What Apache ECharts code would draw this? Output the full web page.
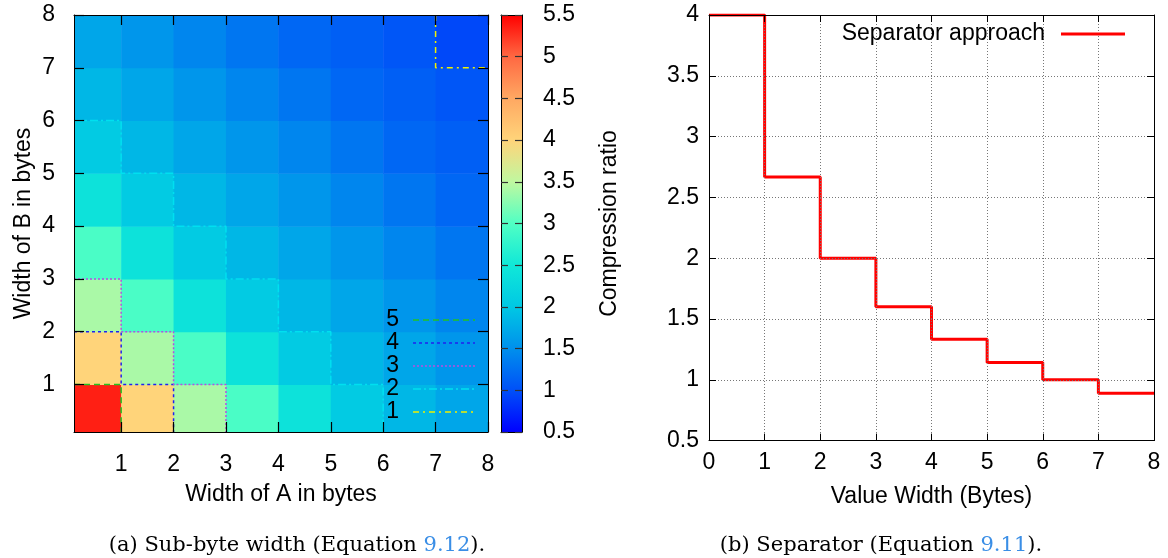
<!DOCTYPE html>
<html>
<head>
<meta charset="utf-8">
<script src="https://cdn.jsdelivr.net/npm/echarts@6/dist/echarts.min.js"></script>
<style>
html,body{margin:0;padding:0;background:#fff;}
#chart{width:1168px;height:558px;}
</style>
</head>
<body>
<div id="chart"></div>
<script>
// ---------- data ----------
const widthA = [1, 2, 3, 4, 5, 6, 7, 8];          // right edge of each cell column (bytes)
const widthB = [1, 2, 3, 4, 5, 6, 7, 8];          // top edge of each cell row (bytes)
// compression ratio, rows = width of B (1..8), columns = width of A (1..8)
const ratioRows = [
  [5.35, 4.00, 3.40, 2.95, 2.40, 2.05, 1.85, 1.70],
  [4.00, 3.40, 2.95, 2.40, 2.05, 1.85, 1.70, 1.55],
  [3.40, 2.95, 2.40, 2.05, 1.85, 1.70, 1.55, 1.42],
  [2.95, 2.40, 2.05, 1.85, 1.70, 1.55, 1.42, 1.30],
  [2.40, 2.05, 1.85, 1.70, 1.55, 1.42, 1.30, 1.18],
  [2.05, 1.85, 1.70, 1.55, 1.42, 1.30, 1.18, 1.12],
  [1.85, 1.70, 1.55, 1.42, 1.30, 1.18, 1.12, 1.05],
  [1.70, 1.55, 1.42, 1.30, 1.18, 1.12, 1.05, 0.95]
];
const axisTicksAB = [1, 2, 3, 4, 5, 6, 7, 8];
const colorbarTicks = [0.5, 1, 1.5, 2, 2.5, 3, 3.5, 4, 4.5, 5, 5.5];
const paletteColors = ['#0000ff', '#0050f8', '#0090ec', '#00c8e4', '#10e8d8', '#50ffc4',
                       '#c0f8a0', '#ffd47a', '#ffa862', '#ff6842', '#ff0000'];

// contour lines (staircases), [widthA, widthB]
const contourNames = ['5', '4', '3', '2', '1'];
const contour5 = [[0.1, 1], [1, 1], [1, 0.1]];
const contour4 = [[0.1, 2], [1, 2], [1, 1], [2, 1], [2, 0.1]];
const contour3 = [[0.1, 3], [1, 3], [1, 2], [2, 2], [2, 1], [3, 1], [3, 0.1]];
const contour2 = [[0.1, 6], [1, 6], [1, 5], [2, 5], [2, 4], [3, 4], [3, 3], [4, 3], [4, 2], [5, 2], [5, 1], [6, 1], [6, 0.1]];
const contour1 = [[7, 8], [7, 7], [8, 7]];

// separator approach
const seriesName = 'Separator approach';
const valueWidth = [0, 1, 2, 3, 4, 5, 6, 7, 8];
const separatorRatio = [4.0, 2.667, 2.0, 1.6, 1.333, 1.143, 1.0, 0.889, 0.889];

// ---------- build ----------
const SANS = 'Liberation Sans, Arial, Helvetica, sans-serif';
const SERIF = 'DejaVu Serif, serif';
const FS = 23;
const heatData = [];
ratioRows.forEach((row, j) => row.forEach((v, i) => heatData.push([widthA[i], widthB[j], v])));
const AMIN = 0.1;
const cbMin = colorbarTicks[0], cbMax = colorbarTicks[colorbarTicks.length - 1];

const chart = echarts.init(document.getElementById('chart'), null, {renderer: 'canvas'});

function blackLine() { return {show: true, onZero: false, lineStyle: {color: '#000', width: 1}}; }
function labelStyle(extra) { return Object.assign({color: '#000', fontFamily: SANS, fontSize: FS}, extra || {}); }
function nameStyle() { return {color: '#000', fontFamily: SANS, fontSize: FS}; }

function abAxis(extra) {
  return Object.assign({
    type: 'value', gridIndex: 0, min: AMIN, max: 8, z: 10,
    axisLine: blackLine(),
    axisTick: {show: true, inside: true, length: 10, customValues: axisTicksAB, lineStyle: {color: '#000', width: 1.2}},
    axisLabel: labelStyle({show: true, customValues: axisTicksAB}),
    splitLine: {show: false}
  }, extra);
}

const contourStyles = [
  {data: contour5, color: '#22c422', type: [6, 4]},
  {data: contour4, color: '#2020f0', type: [3, 3]},
  {data: contour3, color: '#b84ee0', type: [2, 2]},
  {data: contour2, color: '#00e0f0', type: [8, 3, 2, 3]},
  {data: contour1, color: '#f0f000', type: [6, 4, 2, 4]}
];

// key (legend) graphics
const keyGraphics = [];
contourNames.forEach((n, k) => {
  const y = 320 + k * 23;
  keyGraphics.push({type: 'text', x: 399, y: y, z: 20,
    style: {text: n, fill: '#000', font: FS + 'px ' + SANS, textAlign: 'right', textVerticalAlign: 'middle'}});
  keyGraphics.push({type: 'line', z: 20,
    shape: {x1: 413, y1: y, x2: 475, y2: y},
    style: {stroke: contourStyles[k].color, lineWidth: 1.5, lineDash: contourStyles[k].type}});
});
keyGraphics.push({type: 'text', x: 1045, y: 34, z: 20,
  style: {text: seriesName, fill: '#000', font: FS + 'px ' + SANS, textAlign: 'right', textVerticalAlign: 'middle'}});
keyGraphics.push({type: 'line', z: 20,
  shape: {x1: 1061, y1: 34, x2: 1125, y2: 34}, style: {stroke: '#ff0000', lineWidth: 3}});

const captionRich = {
  a: {fontFamily: SERIF, fontSize: 21, fontWeight: 'normal', color: '#000'},
  b: {fontFamily: SERIF, fontSize: 21, fontWeight: 'normal', color: '#3a8ee6'}
};

const option = {
  animation: false,
  backgroundColor: '#fff',
  textStyle: {fontFamily: SANS},
  grid: [
    {left: 74, top: 15, width: 414, height: 417},
    {left: 501, top: 15, width: 21, height: 417},
    {left: 709, top: 15, width: 445, height: 425.6}
  ],
  xAxis: [
    abAxis({name: 'Width of A in bytes', nameLocation: 'middle', nameGap: 51, nameTextStyle: nameStyle(),
            axisLabel: labelStyle({show: true, customValues: axisTicksAB, margin: 21})}),
    abAxis({position: 'top', axisLabel: {show: false}}),
    {type: 'value', gridIndex: 1, min: 0, max: 1, z: 10, axisLine: blackLine(), axisTick: {show: false}, axisLabel: {show: false}, splitLine: {show: false}},
    {type: 'value', gridIndex: 1, min: 0, max: 1, z: 10, position: 'top', axisLine: blackLine(), axisTick: {show: false}, axisLabel: {show: false}, splitLine: {show: false}},
    {type: 'value', gridIndex: 2, min: 0, max: 8, interval: 1, z: 10, axisLine: blackLine(),
     axisTick: {show: true, inside: true, length: 7, lineStyle: {color: '#000'}},
     axisLabel: labelStyle({margin: 11}),
     splitLine: {show: true, lineStyle: {color: '#777', type: [1, 2], width: 1}},
     name: 'Value Width (Bytes)', nameLocation: 'middle', nameGap: 45, nameTextStyle: nameStyle()},
    {type: 'value', gridIndex: 2, min: 0, max: 8, interval: 1, position: 'top', z: 10, axisLine: blackLine(),
     axisTick: {show: true, inside: true, length: 7, lineStyle: {color: '#000'}}, axisLabel: {show: false}, splitLine: {show: false}}
  ],
  yAxis: [
    abAxis({name: 'Width of B in bytes', nameLocation: 'middle', nameGap: 39, nameTextStyle: nameStyle(),
            axisLabel: labelStyle({show: true, customValues: axisTicksAB, margin: 19})}),
    abAxis({position: 'right', axisLabel: {show: false}}),
    {type: 'value', gridIndex: 1, min: cbMin, max: cbMax, interval: 0.5, position: 'left', z: 10, axisLine: blackLine(),
     axisTick: {show: true, inside: true, length: 7, lineStyle: {color: '#333', width: 1.2}}, axisLabel: {show: false}, splitLine: {show: false}},
    {type: 'value', gridIndex: 1, min: cbMin, max: cbMax, interval: 0.5, position: 'right', z: 10, axisLine: blackLine(),
     axisTick: {show: true, inside: true, length: 7, lineStyle: {color: '#333', width: 1.2}},
     axisLabel: labelStyle({margin: 21}), splitLine: {show: false},
     name: 'Compression ratio', nameLocation: 'middle', nameGap: 76, nameRotate: 90, nameTextStyle: nameStyle()},
    {type: 'value', gridIndex: 2, min: 0.5, max: 4, interval: 0.5, z: 10, axisLine: blackLine(),
     axisTick: {show: true, inside: true, length: 7, lineStyle: {color: '#000'}},
     axisLabel: labelStyle({margin: 10}),
     splitLine: {show: true, lineStyle: {color: '#777', type: [1, 2], width: 1}}},
    {type: 'value', gridIndex: 2, min: 0.5, max: 4, interval: 0.5, position: 'right', z: 10, axisLine: blackLine(),
     axisTick: {show: true, inside: true, length: 7, lineStyle: {color: '#000'}}, axisLabel: {show: false}, splitLine: {show: false}}
  ],
  visualMap: [{
    show: false, type: 'continuous', min: cbMin, max: cbMax, dimension: 2, seriesIndex: 0,
    inRange: {color: paletteColors}
  }],
  title: [
    {text: '{a|(a) Sub-byte width (Equation }{b|9.12}{a|).}', left: 292, top: 530, textAlign: 'center',
     textStyle: {fontWeight: 'normal', rich: captionRich}},
    {text: '{a|(b) Separator (Equation }{b|9.11}{a|).}', left: 876, top: 530, textAlign: 'center',
     textStyle: {fontWeight: 'normal', rich: captionRich}}
  ],
  graphic: keyGraphics,
  series: [
    {
      type: 'custom', xAxisIndex: 0, yAxisIndex: 0, data: heatData, encode: {x: 0, y: 1},
      z: 1, silent: true,
      renderItem: function (params, api) {
        const a = api.value(0), b = api.value(1);
        const p0 = api.coord([Math.max(a - 1, AMIN), Math.max(b - 1, AMIN)]);
        const p1 = api.coord([a, b]);
        return {type: 'rect', shape: {x: p0[0], y: p1[1], width: p1[0] - p0[0] + 0.5, height: p0[1] - p1[1] + 0.5},
                style: {fill: api.visual('color')}};
      }
    },
    {
      type: 'custom', xAxisIndex: 2, yAxisIndex: 2, data: [[0, cbMin, 1, cbMax]], z: 1, silent: true,
      renderItem: function (params, api) {
        const p0 = api.coord([api.value(0), api.value(1)]);
        const p1 = api.coord([api.value(2), api.value(3)]);
        const n = paletteColors.length - 1;
        const stops = paletteColors.map((c, k) => ({offset: 1 - k / n, color: c})).reverse();
        return {type: 'rect', shape: {x: p0[0], y: p1[1], width: p1[0] - p0[0], height: p0[1] - p1[1]},
                style: {fill: new echarts.graphic.LinearGradient(0, 0, 0, 1, stops)}};
      }
    },
    ...contourStyles.map((c, k) => ({
      type: 'line', name: contourNames[k], xAxisIndex: 0, yAxisIndex: 0, data: c.data, symbol: 'none', z: 3,
      silent: true, color: c.color,
      lineStyle: {color: c.color, width: 1.5, type: c.type}
    })),
    {
      type: 'line', name: seriesName, xAxisIndex: 4, yAxisIndex: 4,
      data: valueWidth.map((w, k) => [w, separatorRatio[k]]),
      step: 'end', symbol: 'none', color: '#ff0000', z: 3,
      lineStyle: {color: '#ff0000', width: 3}
    }
  ]
};
chart.setOption(option);
</script>
</body>
</html>
